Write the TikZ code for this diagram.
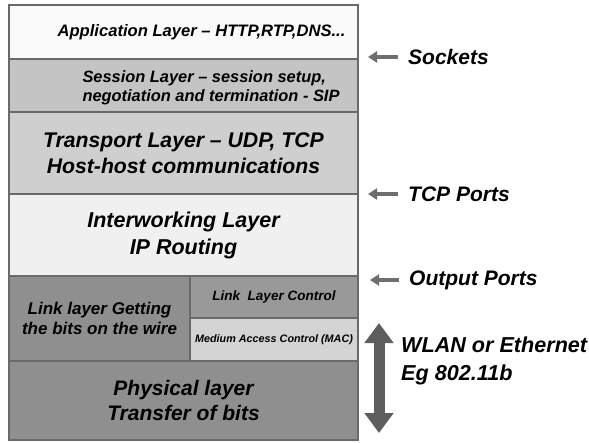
\documentclass[tikz,border=0pt]{standalone}
\usepackage{fontspec}
\setmainfont{Liberation Sans}
\usetikzlibrary{positioning,arrows.meta}

\definecolor{edgegray}{HTML}{6A6A6A}
\definecolor{arrowgray}{HTML}{6E6E6E}
\newcommand{\bisz}[2]{\bfseries\itshape\fontsize{#1}{#2}\selectfont}

\begin{document}
\begin{tikzpicture}[x=1pt, y=-1pt,
    layer/.style={draw=edgegray, line width=1.1pt, rectangle, outer sep=0pt, inner sep=0pt, align=center},
    portlabel/.style={anchor=west, inner sep=2pt, font=\bisz{21}{28}, align=left},
    portarrow/.style={draw=arrowgray, line width=4pt, shorten <=8pt, -{Triangle[width=11pt,length=9pt]}}]
        \useasboundingbox (0,0) rectangle (589,442);
        % Upper layers of the stack
        \node[layer, fill=white!98!black, minimum width=349pt, minimum height=54pt, anchor=north west] (app) at (9,5) {};
        \node[layer, fill=white!77!black, minimum width=349pt, minimum height=53pt, below=0pt of app] (sess) {};
        \node[layer, fill=white!81!black, minimum width=349pt, minimum height=82pt, below=0pt of sess, font=\bisz{21.2}{26}] (trans)
            {Transport Layer -- UDP, TCP\\Host-host communications};
        \node[layer, fill=white!94!black, minimum width=349pt, minimum height=82pt, below=0pt of trans, font=\bisz{21.5}{27}] (inet)
            {Interworking Layer\\IP Routing};
        % Texts set off centre
        \node[font=\bisz{16.6}{16}] (apptext) at ([xshift=18pt]app.center) {Application Layer -- HTTP,RTP,DNS...};
        \node[font=\bisz{16.4}{19}, align=left, anchor=west] (sesstext) at ([xshift=70pt,yshift=-2pt]sess.west)
            {Session Layer -- session setup,\\negotiation and termination - SIP};
        % Link layer and its two parts
        \node[layer, fill=white!56!black, minimum width=181pt, minimum height=85pt, below=0pt of inet.south west, anchor=north west, font=\bisz{17}{20}] (link)
            {Link layer Getting\\the bits on the wire};
        \node[layer, fill=white!60!black, minimum width=168pt, minimum height=42pt, anchor=north west, font=\bisz{13.5}{14}] (llc)
            at (link.north east) {Link\ \ Layer Control};
        \node[layer, fill=white!83!black, minimum width=168pt, minimum height=43pt, below=0pt of llc, font=\bisz{10.8}{12}] (mac)
            {Medium Access Control (MAC)};
        \node[layer, fill=white!56!black, minimum width=349pt, minimum height=79pt, below=0pt of link.south west, anchor=north west, font=\bisz{21}{25}] (phys)
            {Physical layer\\Transfer of bits};
        % Interfaces on the right
        \coordinate (socktip) at ([xshift=10pt,yshift=2pt]app.south east);
        \coordinate (tcptip) at ([xshift=10pt]trans.south east);
        \coordinate (outtip) at ([xshift=12pt,yshift=-4pt]inet.south east);
        \node[portlabel] (sockets) at ([xshift=38pt]socktip) {Sockets};
        \node[portlabel] (tcpports) at ([xshift=38pt]tcptip) {TCP Ports};
        \node[portlabel] (outports) at ([xshift=37pt]outtip) {Output Ports};
        \draw[portarrow] (sockets.west) -- (socktip);
        \draw[portarrow] (tcpports.west) -- (tcptip);
        \draw[portarrow] (outports.west) -- (outtip);
        % Medium
        \coordinate (wtop) at ([xshift=21pt,yshift=-5pt]mac.north east);
        \coordinate (wbot) at ([xshift=21pt,yshift=7pt]phys.south east);
        \draw[arrowgray!85!black, line width=11pt, {Triangle[width=28pt,length=20pt]}-{Triangle[width=28pt,length=20pt]}] (wtop) -- (wbot);
        \node[portlabel, font=\bisz{21.6}{28}] (wlan) at (399,361) {WLAN or Ethernet\\Eg 802.11b};
\end{tikzpicture}
\end{document}
